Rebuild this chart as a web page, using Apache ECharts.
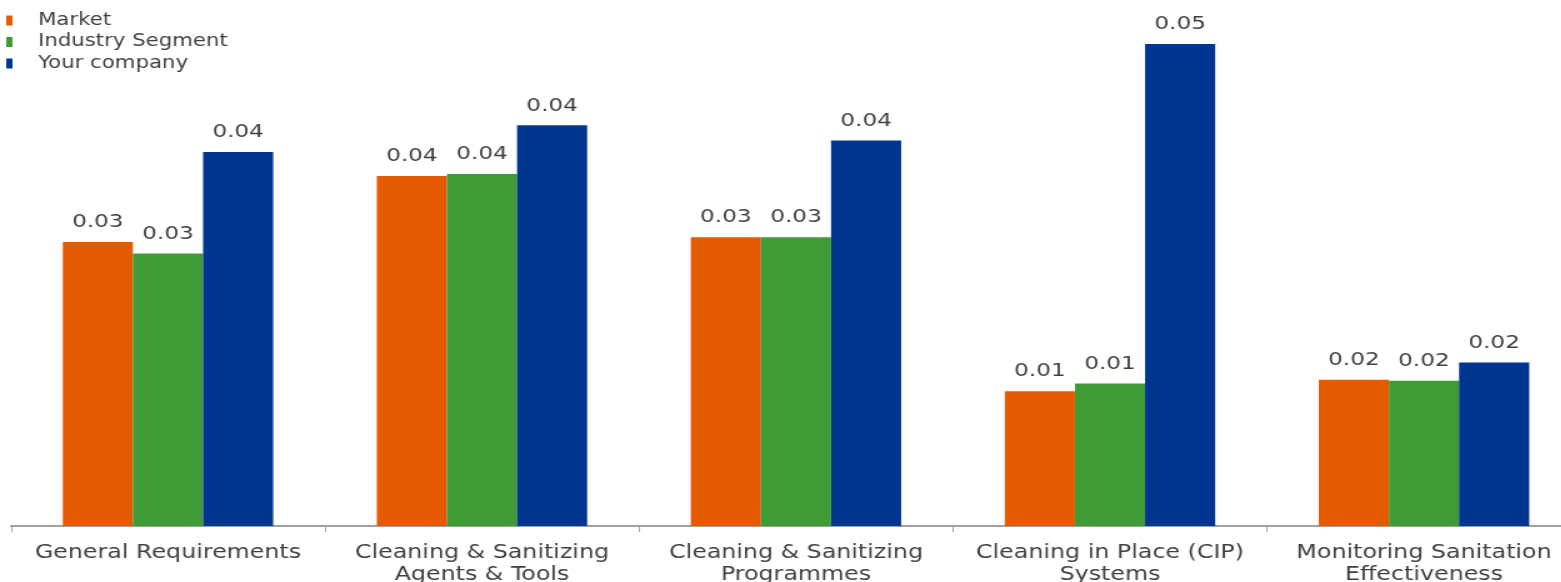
<!DOCTYPE html>
<html><head><meta charset="utf-8">
<script src="https://cdn.jsdelivr.net/npm/echarts@6/dist/echarts.min.js"></script>
<style>html,body{margin:0;padding:0;background:#fff;overflow:hidden;width:1561px;height:582px}
#c{width:1249px;height:582px;transform:scaleX(1.25);transform-origin:0 0}</style>
</head><body><div id="c"></div>
<script>
const categories = ["General Requirements", "Cleaning & Sanitizing\nAgents & Tools", "Cleaning & Sanitizing\nProgrammes", "Cleaning in Place (CIP)\nSystems", "Monitoring Sanitation\nEffectiveness"];
const seriesNames = ["Market", "Industry Segment", "Your company"];
const market = [0.0297, 0.0366, 0.0302, 0.0141, 0.0153];
const industry = [0.0285, 0.0368, 0.0302, 0.0149, 0.0152];
const company = [0.0391, 0.0419, 0.0403, 0.0504, 0.0171];
const colors = ["#E35A00", "#3F9B35", "#003590"];
const font = "'DejaVu Sans', Verdana, sans-serif";
const chart = echarts.init(document.getElementById('c'));
const mk = (name, data, color) => ({
  name, type: 'bar', data, barGap: '0%', barCategoryGap: '33%',
  itemStyle: {color},
  label: {show: true, position: 'top', distance: 10, color: '#404040', fontFamily: font, fontSize: 18.5,
    formatter: p => p.value.toFixed(2)}
});
chart.setOption({
  animation: false,
  legend: {orient: 'vertical', left: 0, top: 7, itemWidth: 5, itemHeight: 10, itemGap: 4.5,
    icon: 'rect', textStyle: {fontFamily: font, fontSize: 17, color: '#404040', padding: [0,0,0,15.4]},
    data: seriesNames},
  grid: {left: 8.8, width: 1256, top: 0, bottom: 56, containLabel: false, outerBoundsMode: 'none'},
  xAxis: {type: 'category', data: categories,
    axisLine: {lineStyle: {color: '#A0A0A0', width: 2}},
    axisTick: {show: true, interval: 0, length: 6, lineStyle: {color: '#A0A0A0'}},
    axisLabel: {interval: 0, fontFamily: font, fontSize: 19, color: '#404040', margin: 16, lineHeight: 22}},
  yAxis: {type: 'value', min: 0, max: 0.055, show: false, splitLine: {show: false}},
  series: [mk(seriesNames[0], market, colors[0]), mk(seriesNames[1], industry, colors[1]), mk(seriesNames[2], company, colors[2])]
});
</script></body></html>
